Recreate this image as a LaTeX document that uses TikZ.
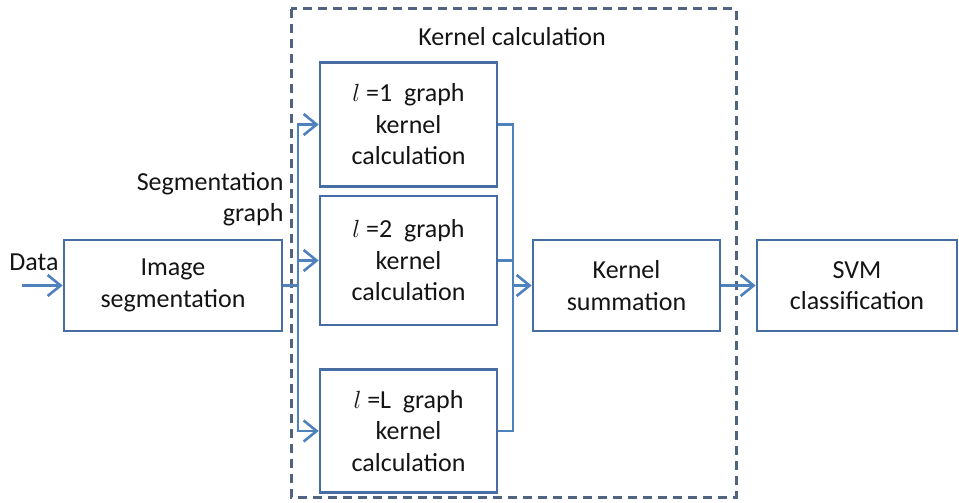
\documentclass[tikz,border=0pt]{standalone}
\usepackage{fontspec}
\setmainfont{Carlito}
\usepackage{tikz}
\usetikzlibrary{arrows.meta}

\definecolor{linkblue}{RGB}{79,129,189}
\definecolor{boxblue}{RGB}{70,110,165}
\definecolor{framegrey}{RGB}{80,100,130}
\definecolor{txt}{RGB}{20,20,20}

\begin{document}
\begin{tikzpicture}
[x=1pt,y=-1pt,
font=\fontsize{26}{31.5}\selectfont,text=txt,
>={Straight Barb[length=13pt,width=21pt]},
blk/.style={rectangle,draw=boxblue,line width=2.6pt,align=center,inner sep=0pt},
kern/.style={blk,minimum width=177pt},
wire/.style={draw=linkblue,line width=2.6pt},
frame/.style={draw=framegrey,line width=3pt,dash pattern=on 9pt off 6pt}]
\useasboundingbox (0,0) rectangle (959,503);
% kernel calculation frame
\draw [frame] (291,9) rectangle (736,497);
\node at (512,37) (kcl) {Kernel calculation};
% blocks
\node at (173,285.5) [blk,minimum width=218pt,minimum height=91pt] (seg) {Image\\segmentation};
\node at (408.5,124.5) [kern,minimum height=124pt] (k1) {$l$ =1~~graph\\kernel\\calculation};
\node at (408.5,260.5) [kern,minimum height=129pt] (k2) {$l$ =2~~graph\\kernel\\calculation};
\node at (408.5,431) [kern,minimum height=123pt] (kL) {$l$ =L~~graph\\kernel\\calculation};
\node at (626.5,285.5) [blk,minimum width=187pt,minimum height=91pt] (sum) {Kernel\\summation};
\node at (857,285.5) [blk,minimum width=200pt,minimum height=91pt] (svm) {SVM\\classification};
% labels
\node at (34,262) (dat) {Data};
\node at (287,199) [anchor=east,align=right] (sgl) {Segmentation\\graph};
% connectors
\coordinate (in) at (22,285.5);
\coordinate (split) at (298,285.5);
\coordinate (join) at (513,285.5);
\draw [wire,->] (in) -- (seg.west);
\draw [wire] (seg.east) -- (split);
\draw [wire,->] (split) |- (k1.west);
\draw [wire,->] (split) |- (k2.west);
\draw [wire,->] (split) |- (kL.west);
\draw [wire] (k1.east) -| (join);
\draw [wire] (k2.east) -| (join);
\draw [wire] (kL.east) -| (join);
\draw [wire,->] (join) -- (sum.west);
\draw [wire,->] (sum.east) -- (svm.west);
\end{tikzpicture}
\end{document}
